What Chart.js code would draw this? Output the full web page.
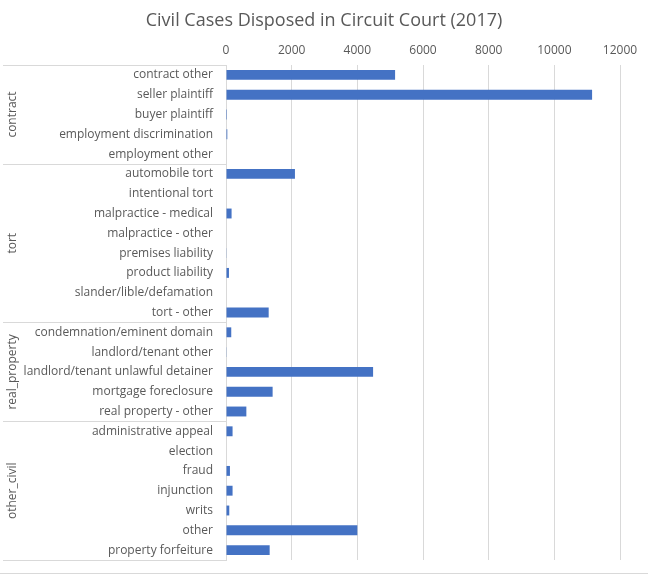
<!DOCTYPE html>
<html>
<head>
<meta charset="utf-8">
<script src="https://cdn.jsdelivr.net/npm/chart.js@4"></script>
<style>
  html, body { margin: 0; padding: 0; background: #fff; }
  #wrap { width: 648px; height: 578px; position: relative; }
</style>
</head>
<body>
<div id="wrap"><canvas id="casesChart" width="648" height="578"></canvas></div>
<script>
const groupNames = ["contract", "tort", "real_property", "other_civil"];
const groupSizes = [5, 8, 5, 7];

const caseTypes = [
  "contract other", "seller plaintiff", "buyer plaintiff", "employment discrimination", "employment other",
  "automobile tort", "intentional tort", "malpractice - medical", "malpractice - other",
  "premises liability", "product liability", "slander/lible/defamation", "tort - other",
  "condemnation/eminent domain", "landlord/tenant other", "landlord/tenant unlawful detainer",
  "mortgage foreclosure", "real property - other",
  "administrative appeal", "election", "fraud", "injunction", "writs", "other", "property forfeiture"
];

const casesDisposed = [
  5150, 11150, 30, 40, 0,
  2100, 0, 170, 0,
  20, 90, 0, 1300,
  160, 10, 4480,
  1420, 620,
  200, 0, 120, 200, 100, 4000, 1330
];

const xTicks = [0, 2000, 4000, 6000, 8000, 10000, 12000];

window.addEventListener("DOMContentLoaded", () => {
  if (typeof Chart === "undefined") {
    return;
  }

  const textColor = "#595959";
  const lineColor = "#d9d9d9";
  const fontFamily = "'Open Sans', 'Noto Sans', sans-serif";

  // group labels + separators on the left
  const groupPlugin = {
    id: "groupLabels",
    afterDraw(chart) {
      const ctx = chart.ctx;
      const y = chart.scales.y;
      const area = chart.chartArea;
      const bounds = [area.top];
      let idx = 0;
      groupSizes.forEach((n, g) => {
        idx += n;
        if (g < groupSizes.length - 1) {
          bounds.push((y.getPixelForValue(idx - 1) + y.getPixelForValue(idx)) / 2);
        }
      });
      bounds.push(area.bottom);

      ctx.save();
      ctx.strokeStyle = lineColor;
      ctx.lineWidth = 1;
      bounds.forEach(b => {
        ctx.beginPath();
        ctx.moveTo(3, Math.round(b) + 0.5);
        ctx.lineTo(area.left, Math.round(b) + 0.5);
        ctx.stroke();
      });
      // bottom frame line
      ctx.beginPath();
      ctx.moveTo(0, 573.5);
      ctx.lineTo(chart.width, 573.5);
      ctx.stroke();

      ctx.fillStyle = textColor;
      ctx.font = "12px " + fontFamily;
      ctx.textAlign = "center";
      ctx.textBaseline = "middle";
      groupNames.forEach((name, g) => {
        const mid = (bounds[g] + bounds[g + 1]) / 2;
        ctx.save();
        ctx.translate(13, mid);
        ctx.rotate(-Math.PI / 2);
        ctx.fillText(name, 0, 0);
        ctx.restore();
      });
      ctx.restore();
    }
  };

  new Chart(document.getElementById("casesChart"), {
    type: "bar",
    data: {
      labels: caseTypes,
      datasets: [{
        data: casesDisposed,
        backgroundColor: "#4472c4",
        borderWidth: 0,
        categoryPercentage: 1,
        barPercentage: 0.5
      }]
    },
    plugins: [groupPlugin],
    options: {
      indexAxis: "y",
      responsive: false,
      animation: false,
      layout: {
        padding: { top: 0, right: 0, bottom: 18, left: 0 }
      },
      plugins: {
        legend: { display: false },
        tooltip: { enabled: false },
        title: {
          display: true,
          text: "Civil Cases Disposed in Circuit Court (2017)",
          color: textColor,
          font: { family: fontFamily, size: 18, weight: "normal" },
          padding: { top: 10, bottom: 5 }
        }
      },
      scales: {
        x: {
          position: "top",
          min: 0,
          max: 12000,
          afterBuildTicks(scale) {
            scale.ticks = xTicks.map(v => ({ value: v }));
          },
          afterFit(scale) {
            scale.paddingRight = 28;
          },
          ticks: {
            color: textColor,
            font: { family: fontFamily, size: 12 },
            padding: 7,
            callback: v => String(v)
          },
          grid: {
            color: lineColor,
            drawTicks: false
          },
          border: { display: false }
        },
        y: {
          afterFit(scale) {
            scale.width = 226;
          },
          ticks: {
            color: textColor,
            font: { family: fontFamily, size: 12 },
            padding: 5,
            autoSkip: false
          },
          grid: { display: false },
          border: { display: true, color: lineColor }
        }
      }
    }
  });
});
</script>
</body>
</html>
